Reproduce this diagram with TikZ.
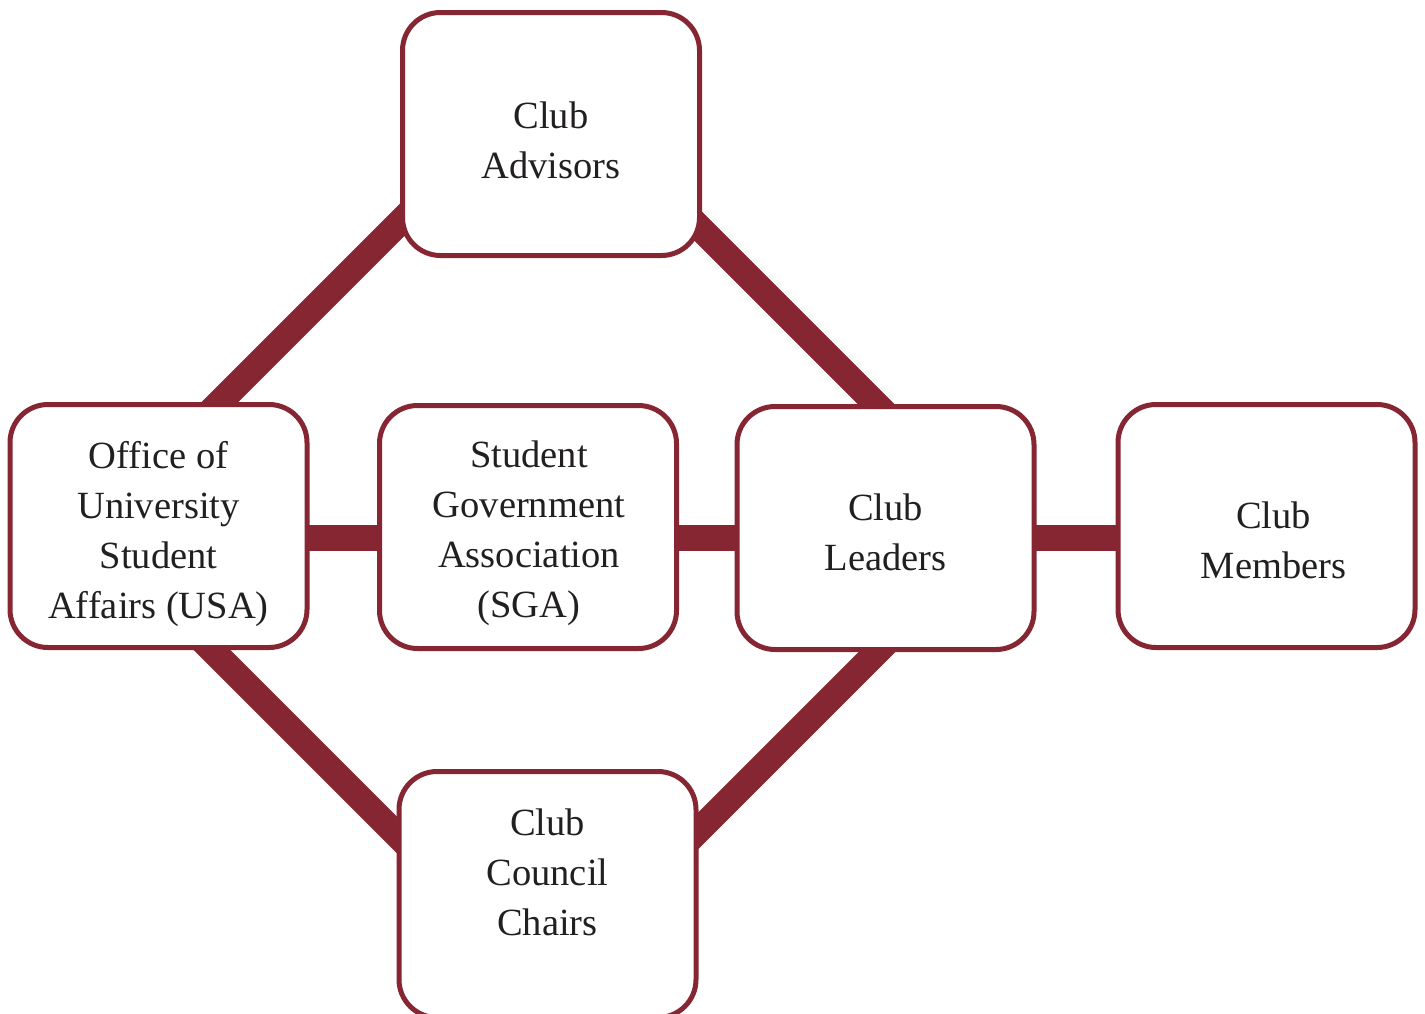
\documentclass[tikz,border=0pt]{standalone}
\usepackage{fontspec}
\setmainfont{Liberation Serif}
\usetikzlibrary{calc,backgrounds}
\definecolor{maroon}{RGB}{134,38,51}
\definecolor{txt}{RGB}{34,31,32}
\begin{document}
\begin{tikzpicture}[x=1pt,y=-1pt,
  orgbox/.style={draw=maroon, line width=5pt, fill=white, rounded corners=38pt,
    minimum width=297pt, minimum height=243pt, inner sep=0pt},
  lbl/.style={align=center, text=txt, font=\fontsize{38.5}{50}\selectfont, inner sep=0pt},
  link/.style={draw=maroon, line width=26pt}]
\useasboundingbox (0,0) rectangle (1425,1013);
\clip (0,0) rectangle (1425,1013);
\node[orgbox] (adv) at (551,134) {};
\node[orgbox] (usa) at (158.5,526) {};
\node[orgbox] (sga) at (528,527) {};
\node[orgbox] (lead) at (885.5,528) {};
\node[orgbox] (mem) at (1266.5,526) {};
\node[orgbox, minimum height=246pt] (cc) at (547.5,894.5) {};
\node[lbl] (advt) at ($(adv.center)+(0,6)$) {Club\\Advisors};
\node[lbl] (usat) at ($(usa.center)+(0,8)$) {Office of\\University\\Student\\Affairs (USA)};
\node[lbl] (sgat) at ($(sga.center)+(1,6)$) {Student\\Government\\Association\\(SGA)};
\node[lbl] (leadt) at ($(lead.center)+(0,4)$) {Club\\Leaders};
\node[lbl] (memt) at ($(mem.center)+(7,14)$) {Club\\Members};
\node[lbl] (cct) at ($(cc.center)+(0,-22)$) {Club\\Council\\Chairs};
\coordinate (hy) at (0,537.5);
\begin{scope}[on background layer]
\draw[link] (usa |- hy) -- (sga |- hy) -- (lead |- hy) -- (mem |- hy);
\draw[link] ($(usa.center)+(41.5,-104)$) -- ($(adv.center)+(-129,66)$);
\draw[link] ($(adv.center)+(131,76)$) -- ($(lead.center)+(11.5,-103)$);
\draw[link] ($(usa.center)+(33.5,104)$) -- ($(cc.center)+(-130.5,-39.5)$);
\draw[link] ($(lead.center)+(12.5,103)$) -- ($(cc.center)+(130.5,-43.5)$);
\end{scope}
\end{tikzpicture}
\end{document}
